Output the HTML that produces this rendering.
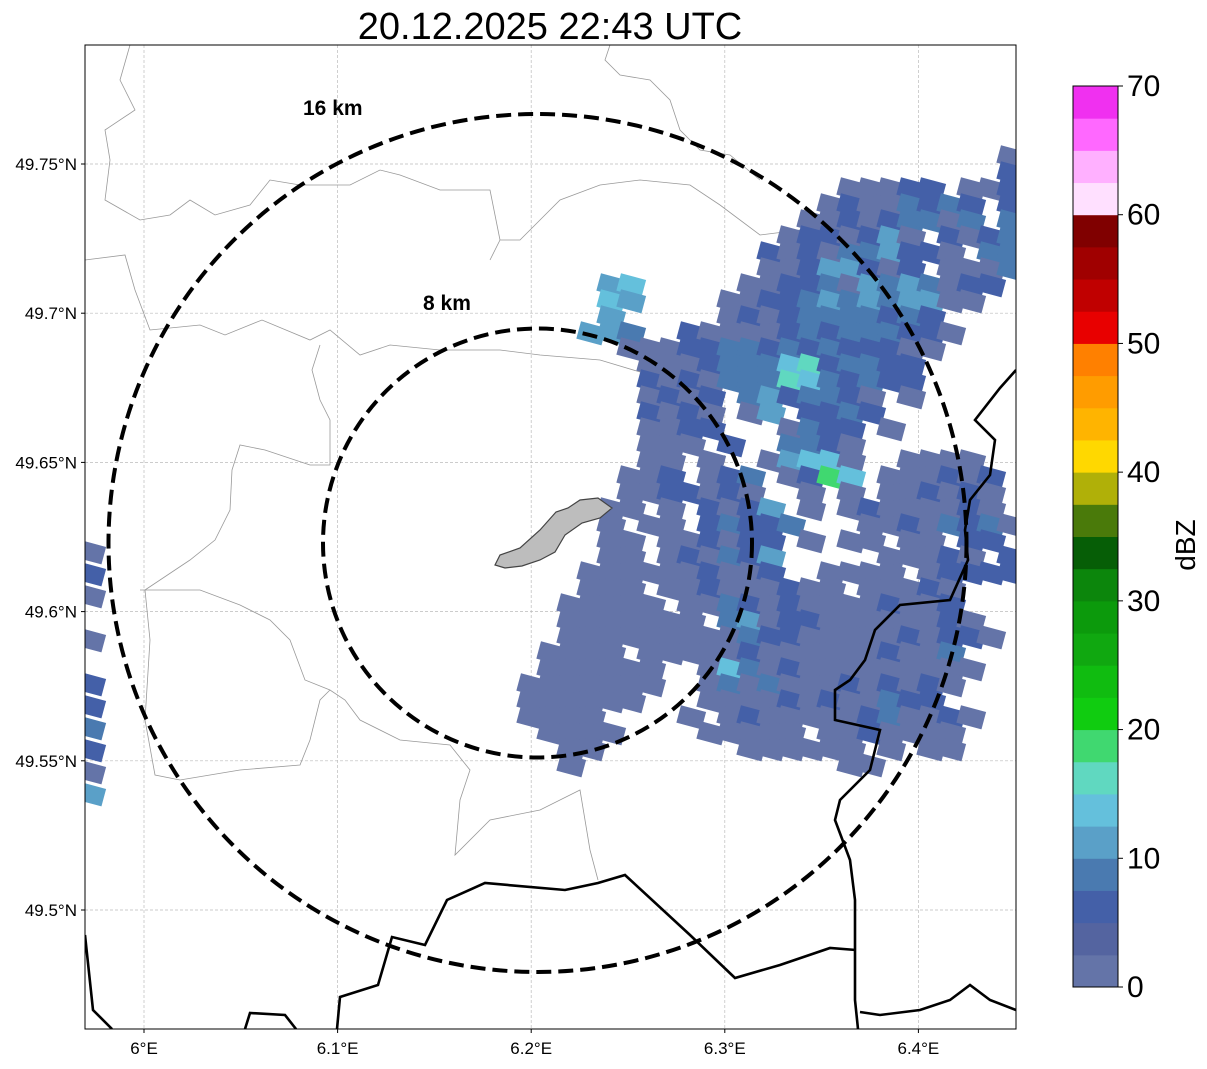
<!DOCTYPE html>
<html><head><meta charset="utf-8">
<style>
body{margin:0;background:#fff;width:1207px;height:1064px;overflow:hidden;font-family:"Liberation Sans","DejaVu Sans",sans-serif}
svg text{font-family:"Liberation Sans","DejaVu Sans",sans-serif}
</style></head>
<body>
<svg id="chart" width="1207" height="1064" viewBox="0 0 1207 1064" xmlns="http://www.w3.org/2000/svg">
<defs><clipPath id="mapclip"><rect x="85" y="45" width="931" height="984"/></clipPath></defs>
<text x="550" y="39" font-size="38" text-anchor="middle">20.12.2025 22:43 UTC</text>
<g id="grid"></g>
<g clip-path="url(#mapclip)">
 <g id="thin" fill="none" stroke="#999" stroke-width="0.8">
  <path d="M85,260 L125,255 L135,290 L150,330 L200,325 L225,335 L262,320 L310,340 L330,330 L360,355 L390,345 L440,350 L500,350 L540,355 L600,360 L650,375 L670,385"/>
  <path d="M320,345 L312,370 L320,400 L330,420 L330,465 L310,465 L265,450 L240,445 L232,470 L230,510 L215,540 L190,560 L160,580 L145,590 L150,640 L145,720 L155,775 L180,780 L240,770 L300,765 L310,740 L320,700 L330,690 L345,700 L360,720 L400,740 L450,745 L470,770 L460,800 L455,855 L490,820 L540,810 L580,790 L590,850 L598,880"/>
  <path d="M140,590 L200,590 L240,605 L270,620 L290,640 L305,680 L330,690"/>
  <path d="M490,260 L500,240 L520,240 L540,220 L560,200 L600,185 L640,180 L690,185 L720,205 L760,235 L800,230 L840,240 L860,260"/>
  <path d="M130,45 L120,80 L135,110 L105,130 L110,160 L105,200 L140,220 L170,215 L190,200 L215,215 L250,205 L270,180 L300,185 L350,185 L380,170 L400,175 L440,190 L490,190 L500,240"/>
  <path d="M610,45 L605,60 L620,75 L650,80 L670,100 L680,130 L700,150 L730,155 L760,180"/>
 </g>
 <g id="cells"></g>
 <path d="M495,565 L500,555 L520,548 L540,530 L556,512 L568,508 L580,500 L598,498 L612,508 L600,518 L582,523 L565,535 L555,552 L540,560 L522,566 L505,568 Z" fill="#bdbdbd" stroke="#444" stroke-width="1.2"/>
 <g fill="none" stroke="#000" stroke-width="2.6">
  <path d="M85,935 L93,1010 L112,1029"/>
  <path d="M245,1029 L250,1013 L285,1015 L296,1029"/>
  <path d="M337,1029 L340,997 L378,985 L392,937 L425,945 L447,900 L485,883 L565,890 L598,883 L625,875 L690,935 L735,978 L780,965 L830,948 L856,950"/>
  <path d="M1016,370 L1000,388 L975,420 L995,440 L990,475 L970,500 L965,530 L968,560 L950,600 L900,605 L875,630 L865,660 L850,680 L835,690 L835,720 L880,730 L870,770 L840,800 L835,820 L850,860 L855,900 L855,940 L855,1000 L858,1029"/>
  <path d="M860,1012 L880,1015 L920,1010 L950,1000 L970,985 L990,1000 L1016,1010"/>
 </g>
 <g id="rings"></g>
</g>
<rect x="85" y="45" width="931" height="984" fill="none" stroke="#000" stroke-width="1"/>
<text x="303" y="115" font-size="21" font-weight="bold">16 km</text>
<text x="423" y="310" font-size="21" font-weight="bold">8 km</text>
<g id="ticks"></g>
<g id="cbar"></g>
<text x="1195" y="545" font-size="28" text-anchor="middle" transform="rotate(-90 1195 545)">dBZ</text>
</svg>
<script>
const lonTicks=[6.0,6.1,6.2,6.3,6.4];
const lonLabels=["6°E","6.1°E","6.2°E","6.3°E","6.4°E"];
const latTicks=[49.75,49.7,49.65,49.6,49.55,49.5];
const latLabels=["49.75°N","49.7°N","49.65°N","49.6°N","49.55°N","49.5°N"];
const cbColors=["#6474a8","#5464a0","#4460a8","#4a7ab0","#5aa0c8","#64c0dc","#60d8c0","#40d870","#10cc10","#10bc10","#10a810","#0c9a0c","#0c860c","#065e06","#4a7a0a","#b0b008","#ffd800","#ffb400","#ff9c00","#ff8000","#e80000","#c00000","#a00000","#800000","#ffe0ff","#ffb0ff","#ff68ff","#f030f0"];
const digitBin=[0,0,2,3,4,5,6,6,7];
const cbTicks=[0,10,20,30,40,50,60,70];
const ringKm=[8,16];
const echoRows=[
"........................1",
"........................2",
"................11122.112",
"...............12113232.2",
"..............112123313.3",
".............1221241.2123",
"............2121334221.33",
"............11244212.1113",
"....45.....1122314343122.",
"....54....1122343434411..",
"....4.....12123333232....",
"...443..21111232333221...",
".....1112233232322211....",
"......11123335723322.....",
"......21213336532322.....",
"......1212.3423321.1.....",
"......2121.14.2232.......",
"......1122...1322.1......",
"......111.2..3321........",
"......11.1..14551..1111..",
".....112.123.1285.111212.",
".....1122121..1.1.112121.",
"....11.1.2124.1.12111121.",
"....1.11.23223...11213231",
"....11.112122.1.11.11.22.",
"....11.121324.....11121.2",
"...1111112112..1111.12222",
"...111.112111211.11121...",
"..11111.11321211112112...",
"..1111111.3412211111121..",
"..1111111113221111121221.",
".1111.1111121111112113...",
".111111..15312111111111..",
"1111111..1313111212121...",
"111111...111121211322....",
"1111....1.1211111231121..",
".1111....11111.1121111...",
"..11.......111111.1.11...",
"..1.............11......."
];
const westRows=["1","2","1",".","1",".","2","2","3","2","1","4"];
const x=lon=>144+(lon-6)*1936;
const y=lat=>164+(49.75-lat)*2984;
const NS="http://www.w3.org/2000/svg";
function mk(t,a,p){const e=document.createElementNS(NS,t);for(const k in a)e.setAttribute(k,a[k]);p.appendChild(e);return e;}
const grid=document.getElementById('grid'),ticks=document.getElementById('ticks');
lonTicks.forEach((v,i)=>{
 const l=mk('line',{x1:x(v),x2:x(v),y1:45,y2:1029,stroke:'#bbb','stroke-width':0.7,'stroke-dasharray':'3,2'},grid);
 
 
 const tl=mk('line',{x1:x(v),x2:x(v),y1:1029,y2:1033,stroke:'#000'},ticks);
 
 
 const t=mk('text',{x:x(v),y:1054,'font-size':17,'text-anchor':'middle'},ticks);t.textContent=lonLabels[i];
 
 
});
latTicks.forEach((v,i)=>{
 const l=mk('line',{x1:85,x2:1016,y1:y(v),y2:y(v),stroke:'#bbb','stroke-width':0.7,'stroke-dasharray':'3,2'},grid);
 
 
 const tl=mk('line',{x1:81,x2:85,y1:y(v),y2:y(v),stroke:'#000'},ticks);
 
 
 const t=mk('text',{x:77,y:y(v)+6,'font-size':17,'text-anchor':'end'},ticks);t.textContent=latLabels[i];
 
 
});
const cells=document.getElementById('cells');
function drawCell(cx,cy,d){
 const r=mk('rect',{x:cx-2,y:cy-2,width:26,height:18,fill:cbColors[digitBin[d]],transform:`rotate(15 ${cx+10} ${cy+8})`},cells);
 
 
}
echoRows.forEach((row,j)=>{for(let i=0;i<row.length;i++){const c=row[i];if(c!=='.')drawCell(520+20*i,150+16*j,+c);}});
westRows.forEach((c,j)=>{if(c!=='.')drawCell(80,545+22*j,+c);});
const rings=document.getElementById('rings');
const pxPerKm=429/16;
ringKm.forEach(k=>{
 const c=mk('ellipse',{cx:537.5,cy:543,rx:k*pxPerKm,ry:k*pxPerKm,fill:'none',stroke:'#000','stroke-width':4,'stroke-dasharray':'15,7'},rings);
 
 
});
const cb=document.getElementById('cbar');
const cbTop=86,cbBot=987,cbX=1073,cbW=45;
const cy=v=>cbBot-(v/70)*(cbBot-cbTop);
for(let b=0;b<28;b++){
 const r=mk('rect',{x:cbX,y:cy((b+1)*2.5),width:cbW,height:cy(b*2.5)-cy((b+1)*2.5)+0.5,fill:cbColors[b]},cb);
 
 
}
mk('rect',{x:cbX,y:cbTop,width:cbW,height:cbBot-cbTop,fill:'none',stroke:'#000','stroke-width':1},cb);
cbTicks.forEach(v=>{
 const l=mk('line',{x1:cbX+cbW,x2:cbX+cbW+5,y1:cy(v),y2:cy(v),stroke:'#000'},cb);
 
 
 const t=mk('text',{x:1127,y:cy(v)+10,'font-size':30},cb);t.textContent=v;
 
 
});
</script>
</body></html>
